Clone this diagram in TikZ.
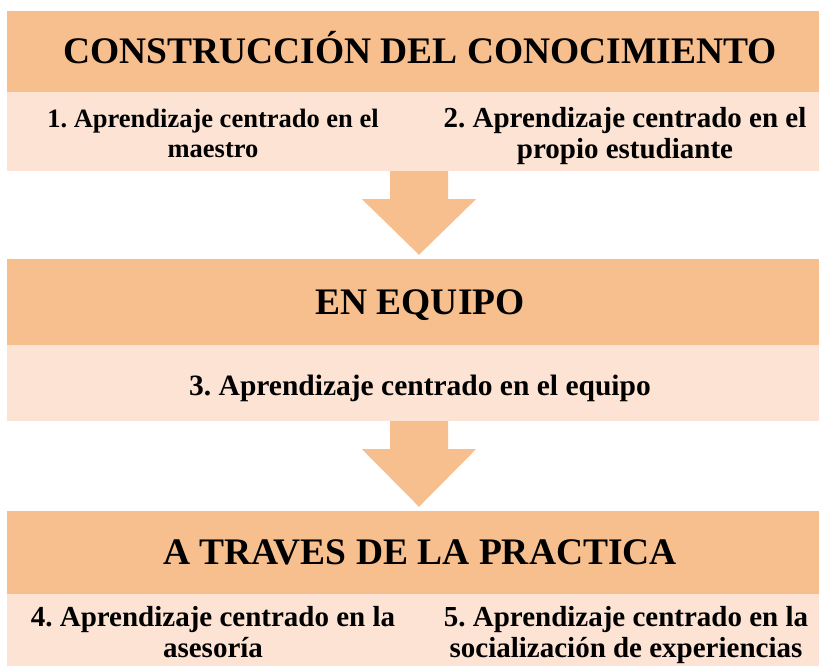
\documentclass[tikz,border=0pt]{standalone}
\usepackage{fontspec}
\setmainfont{Liberation Serif}
\usetikzlibrary{calc}
\definecolor{hdrorange}{RGB}{248,191,142}
\definecolor{lightpeach}{RGB}{252,227,211}
\frenchspacing
\newcommand\fatarrow[2]{%
  \path[blockarrow] let \p1=(#1), \p2=(#2) in
    (\x1-29pt,\y1) -- (\x1+29pt,\y1) -- (\x1+29pt,\y1-28pt) -- (\x1+57pt,\y1-28pt)
    -- (\x1,\y2+4pt) -- (\x1-57pt,\y1-28pt) -- (\x1-29pt,\y1-28pt) -- cycle;}
\begin{document}
\begin{tikzpicture}[x=1pt,y=-1pt,
  hdrbox/.style={fill=hdrorange, draw=none, inner sep=0pt, text height=24.8pt, text depth=0pt,
    font=\fontsize{37.5}{40}\selectfont\bfseries},
  subbox/.style={fill=lightpeach, draw=none, inner sep=0pt},
  subtext/.style={anchor=base, inner sep=0pt},
  blockarrow/.style={fill=hdrorange, draw=none}]
\useasboundingbox (0,0) rectangle (819,666);
\clip (0,0) rectangle (819,666);

% headers
\node[hdrbox, minimum width=826pt, minimum height=81pt] (h1) at (420,51.5) {CONSTRUCCIÓN DEL CONOCIMIENTO};
\node[hdrbox, minimum width=826pt, minimum height=86pt] (h2) at (420,302) {EN EQUIPO};
\node[hdrbox, minimum width=826pt, minimum height=83pt] (h3) at (420,552.5) {A TRAVES DE LA PRACTICA};

% light boxes
\node[subbox, minimum width=411.7pt, minimum height=79pt] (b1) at (212.85,131.5) {};
\node[subbox, minimum width=413.7pt, minimum height=79pt] (b2) at (626.15,131.5) {};
\node[subbox, minimum width=826pt, minimum height=76pt] (b3) at (420,383) {};
\node[subbox, minimum width=411.7pt, minimum height=86pt] (b4) at (212.85,637) {};
\node[subbox, minimum width=413.7pt, minimum height=86pt] (b5) at (626.15,637) {};

% texts
\node[subtext, font=\fontsize{26.5}{29.5}\selectfont\bfseries] (t1) at (213,128)
  {\begin{tabular}[t]{@{}c@{}}1. Aprendizaje centrado en el\\maestro\end{tabular}};
\node[subtext, font=\fontsize{29}{30.5}\selectfont\bfseries] (t2) at (625,128)
  {\begin{tabular}[t]{@{}c@{}}2. Aprendizaje centrado en el\\propio estudiante\end{tabular}};
\node[subtext, font=\fontsize{29.5}{31}\selectfont\bfseries] (t3) at (420,395)
  {3. Aprendizaje centrado en el equipo};
\node[subtext, font=\fontsize{29}{31}\selectfont\bfseries] (t4) at (213,626)
  {\begin{tabular}[t]{@{}c@{}}4. Aprendizaje centrado en la\\asesoría\end{tabular}};
\node[subtext, font=\fontsize{29}{31}\selectfont\bfseries] (t5) at (626,626)
  {\begin{tabular}[t]{@{}c@{}}5. Aprendizaje centrado en la\\socialización de experiencias\end{tabular}};

% block arrows
\coordinate (a1) at ($(b1.south east)!0.5!(b2.south west)$);
\coordinate (a2) at ($(b3.south)+(-1,0)$);
\fatarrow{a1}{h2.north}
\fatarrow{a2}{h3.north}
\end{tikzpicture}
\end{document}
